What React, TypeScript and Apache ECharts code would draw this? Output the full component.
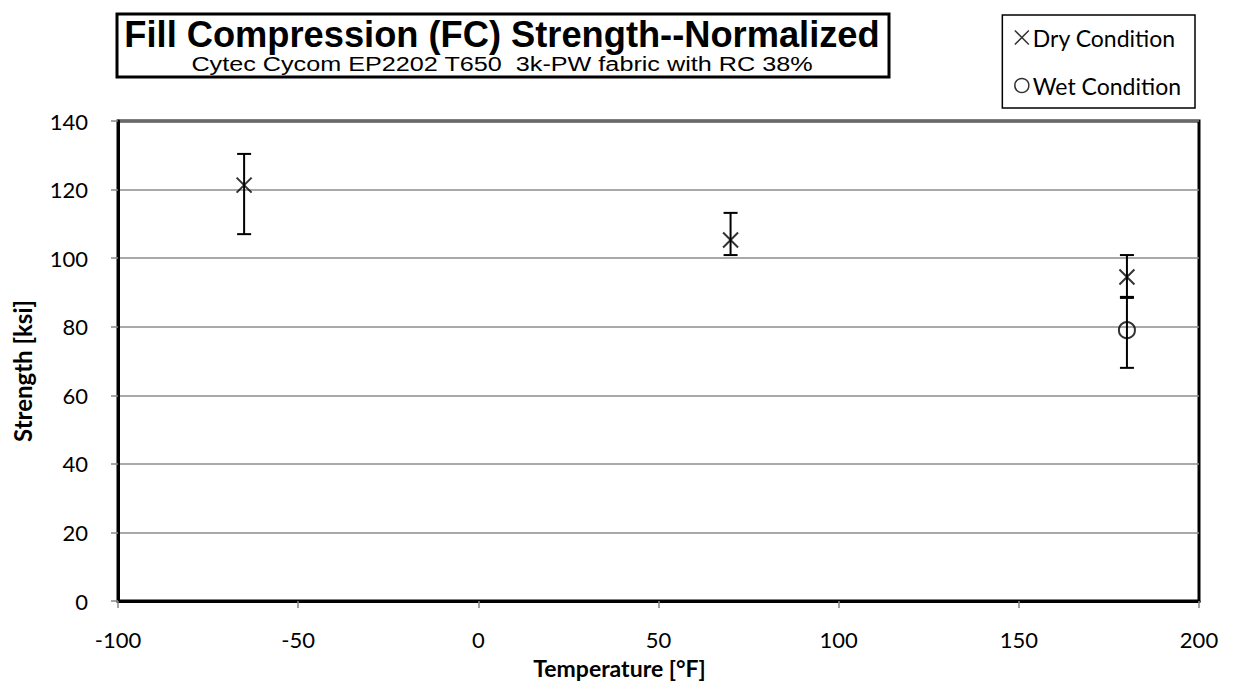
import React, { useEffect, useRef } from "react";
import * as echarts from "echarts";

const dryTemps = [-65, 70, 180];
const dryMeans = [121.3, 105.3, 94.5];
const dryHigh = [130.4, 113.2, 100.9];
const dryLow = [107.0, 100.9, 88.7];

const wetTemps = [180];
const wetMeans = [79.0];
const wetHigh = [88.4];
const wetLow = [68.0];

const titleText = "Fill Compression (FC) Strength--Normalized";
const subtitleText = "Cytec Cycom EP2202 T650  3k-PW fabric with RC 38%";
const xName = "Temperature [°F]";
const yName = "Strength [ksi]";
const dryName = "Dry Condition";
const wetName = "Wet Condition";

const X_PATH = "path://M0,0L10,10M10,0L0,10";

function errorSeries(name: string, temps: number[], lows: number[], highs: number[]) {
  return {
    type: "custom",
    name: name + " err",
    silent: true,
    z: 3,
    data: temps.map((t, i) => [t, lows[i], highs[i]]),
    renderItem: (params: any, api: any) => {
      const x = api.value(0);
      const lo = api.coord([x, api.value(1)]);
      const hi = api.coord([x, api.value(2)]);
      const cap = 7;
      const style = { stroke: "#000", lineWidth: 2 };
      return {
        type: "group",
        children: [
          { type: "line", shape: { x1: lo[0], y1: lo[1], x2: hi[0], y2: hi[1] }, style },
          { type: "line", shape: { x1: lo[0] - cap, y1: lo[1], x2: lo[0] + cap, y2: lo[1] }, style },
          { type: "line", shape: { x1: hi[0] - cap, y1: hi[1], x2: hi[0] + cap, y2: hi[1] }, style },
        ],
      };
    },
  };
}

export default function App() {
  const ref = useRef<HTMLDivElement>(null);
  useEffect(() => {
    if (!ref.current) return;
    const chart = echarts.init(ref.current, undefined, { renderer: "svg" });
    const axisFont = { fontFamily: "Lato", fontSize: 22, color: "#000" };
    chart.setOption({
      animation: false,
      backgroundColor: "#fff",
      grid: {
        left: 118,
        right: 35,
        top: 121,
        bottom: 93,
        show: true,
        borderColor: "#000",
        borderWidth: 3,
        backgroundColor: "transparent",
      },
      xAxis: {
        type: "value",
        min: -100,
        max: 200,
        interval: 50,
        name: xName,
        nameLocation: "middle",
        nameGap: 55,
        nameTextStyle: { fontFamily: "Lato", fontSize: 23, fontWeight: "bold", color: "#000", padding: [0, 78, 0, 0] },
        axisLine: { show: true, onZero: false, lineStyle: { color: "#000", width: 3 } },
        axisTick: { show: true, length: 7, lineStyle: { color: "#888", width: 1.5 } },
        axisLabel: { ...axisFont, margin: 27 },
        splitLine: { show: false },
      },
      yAxis: {
        type: "value",
        min: 0,
        max: 140,
        interval: 20,
        name: yName,
        nameLocation: "middle",
        nameGap: 84,
        nameTextStyle: { fontFamily: "Lato", fontSize: 24, fontWeight: "bold", color: "#000", padding: [0, 20, 0, 0] },
        axisLine: { show: true, onZero: false, lineStyle: { color: "#000", width: 3 } },
        axisTick: { show: true, length: 7, lineStyle: { color: "#888", width: 1.5 } },
        axisLabel: { ...axisFont, margin: 30 },
        splitLine: { show: true, lineStyle: { color: "#8c8c8c", width: 1.5 } },
      },
      legend: {
        orient: "vertical",
        right: 39,
        top: 15,
        padding: [10, 14, 10, 10],
        itemGap: 23,
        itemWidth: 14,
        itemHeight: 14,
        borderColor: "#000",
        borderWidth: 1.5,
        backgroundColor: "#fff",
        textStyle: { fontFamily: "Lato", fontSize: 23, lineHeight: 25, color: "#000", padding: [0, 0, 0, -1] },
        data: [
          { name: dryName, icon: X_PATH, itemStyle: { color: "none", borderColor: "#000", borderWidth: 1.5 } },
          { name: wetName, icon: "circle", itemStyle: { color: "#fff", borderColor: "#000", borderWidth: 1.5 } },
        ],
      },
      graphic: [
        {
          type: "rect",
          shape: { x: 117, y: 14, width: 772, height: 63 },
          style: { fill: "#fff", stroke: "#000", lineWidth: 3 },
          z: 10,
        },
        {
          type: "text",
          x: 502,
          y: 34,
          scaleX: 0.98,
          z: 11,
          style: {
            text: titleText,
            fontFamily: "Liberation Sans",
            fontWeight: "bold",
            fontSize: 37,
            fill: "#000",
            align: "center",
            verticalAlign: "middle",
          },
        },
        {
          type: "text",
          x: 502,
          y: 64,
          scaleX: 1.2,
          z: 11,
          style: {
            text: subtitleText,
            fontFamily: "Liberation Sans",
            fontSize: 21,
            fill: "#000",
            align: "center",
            verticalAlign: "middle",
          },
        },
      ],
      series: [
        errorSeries(dryName, dryTemps, dryLow, dryHigh),
        errorSeries(wetName, wetTemps, wetLow, wetHigh),
        {
          type: "scatter",
          name: dryName,
          z: 5,
          symbol: X_PATH,
          symbolSize: 15,
          itemStyle: { color: "none", borderColor: "#000", borderWidth: 2 },
          data: dryTemps.map((t, i) => [t, dryMeans[i]]),
        },
        {
          type: "scatter",
          name: wetName,
          z: 5,
          symbol: "circle",
          symbolSize: 16,
          itemStyle: { color: "rgba(255,255,255,0)", borderColor: "#000", borderWidth: 2 },
          data: wetTemps.map((t, i) => [t, wetMeans[i]]),
        },
      ],
    });
    return () => chart.dispose();
  }, []);
  return (
    <div
      ref={ref}
      style={{ position: "fixed", left: 0, top: 0, width: 1234, height: 694 }}
    />
  );
}
